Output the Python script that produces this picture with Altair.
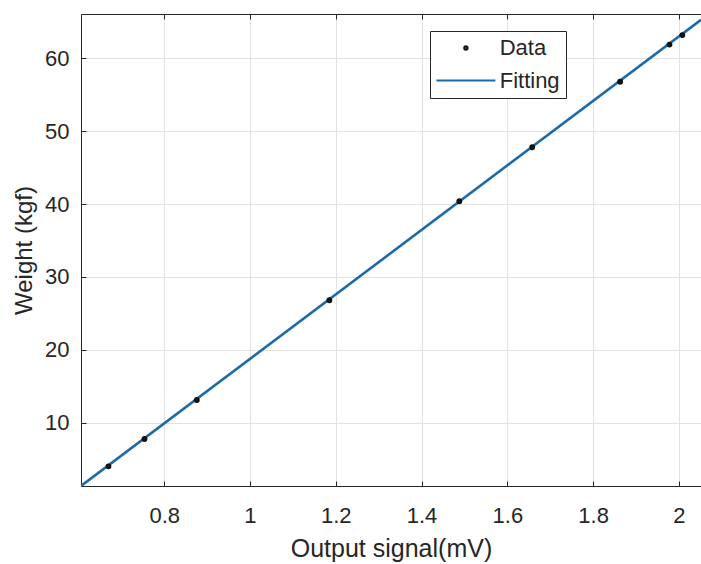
import altair as alt
import pandas as pd

# Calibration measurements: bridge output vs applied load
signal_mv = [0.670, 0.754, 0.876, 1.185, 1.488, 1.658, 1.863, 1.978, 2.008]
weight_kgf = [4.0, 7.75, 13.1, 26.8, 40.4, 47.8, 56.8, 61.9, 63.2]

# End points of the least-squares line over the plotted range
fit_x = [0.606, 2.0515]
fit_y = [1.3, 65.3]

x_ticks = [0.8, 1.0, 1.2, 1.4, 1.6, 1.8, 2.0]
y_ticks = [10, 20, 30, 40, 50, 60]

series = ["Data", "Fitting"]
dot_color = "#111111"
line_color = "#1b6aaa"
ink = "#262626"
grid = "#e2e2e2"
font = "Liberation Sans"

# Legend swatch for the fit: a long horizontal stroke on a small symbol size
fit_swatch = "M-2.95,0H2.95"

W, H = 620, 472
x_dom = [0.606, 2.0515]
y_dom = [1.3, 66.1]

pts = pd.DataFrame({"x": signal_mv, "y": weight_kgf, "series": "Data"})
fit = pd.DataFrame({"x": fit_x, "y": fit_y})

xs = alt.Scale(domain=x_dom, nice=False, zero=False)
ys = alt.Scale(domain=y_dom, nice=False, zero=False)

# Main axes: labels, titles, grid and the left/bottom frame
line = alt.Chart(fit).mark_line(color=line_color, strokeWidth=2.6, clip=True).encode(
    x=alt.X("x:Q", scale=xs, axis=alt.Axis(
        values=x_ticks, format="~g", ticks=False, tickSize=0, grid=True,
        gridColor=grid, domainColor=ink, labelColor=ink, labelFontSize=22,
        labelFont=font, labelPadding=19, title="Output signal(mV)",
        titleFont=font, titleFontSize=25, titleFontWeight="normal",
        titleColor=ink, titlePadding=10)),
    y=alt.Y("y:Q", scale=ys, axis=alt.Axis(
        values=y_ticks, format="d", ticks=False, tickSize=0, grid=True,
        gridColor=grid, domainColor=ink, labelColor=ink, labelFontSize=22,
        labelFont=font, labelPadding=12, title="Weight (kgf)",
        titleFont=font, titleFontSize=24, titleFontWeight="normal",
        titleColor=ink, titlePadding=8)),
)

# Data dots, with inward ticks along the bottom and left edges
dots = alt.Chart(pts).mark_point(filled=False, strokeWidth=2.7, opacity=1, clip=True).encode(
    x=alt.X("x:Q", scale=xs, axis=alt.Axis(
        orient="top", offset=-H, values=x_ticks, labels=False, domain=False,
        grid=False, tickColor=ink, tickSize=5, title=None)),
    y=alt.Y("y:Q", scale=ys, axis=alt.Axis(
        orient="right", offset=-W, values=y_ticks, labels=False, domain=False,
        grid=False, tickColor=ink, tickSize=5, title=None)),
    color=alt.Color("series:N", scale=alt.Scale(domain=series, range=[dot_color, line_color]),
                    legend=alt.Legend(title=None)),
    shape=alt.Shape("series:N", scale=alt.Scale(domain=series, range=["circle", fit_swatch]),
                    legend=alt.Legend(title=None)),
    size=alt.Size("series:N", scale=alt.Scale(domain=series, range=[10, 400]),
                  legend=alt.Legend(title=None)),
)

# Top frame line with inward ticks
top = alt.Chart(fit).mark_line(opacity=0).encode(
    x=alt.X("x:Q", scale=xs, axis=alt.Axis(
        orient="bottom", offset=-H, values=x_ticks, labels=False, domain=True,
        domainColor=ink, grid=False, tickColor=ink, tickSize=5, title=None)),
    y=alt.Y("y:Q", scale=ys, axis=None),
)

chart = alt.layer(line, top, dots).resolve_axis(
    x="independent", y="independent"
).properties(
    width=W, height=H,
    autosize="none",
    padding={"left": 81, "top": 14, "right": 0, "bottom": 78},
    background="white",
).configure_view(stroke=None).configure_legend(
    orient="none", legendX=349, legendY=17, padding=6,
    strokeColor=ink, fillColor="white", cornerRadius=0,
    labelFont=font, labelFontSize=22, labelColor=ink,
    symbolOffset=18.4, labelOffset=22.3,
    rowPadding=10, symbolStrokeWidth=2.2,
)

chart.save("out.html", embed_options={"renderer": "svg", "actions": False})
